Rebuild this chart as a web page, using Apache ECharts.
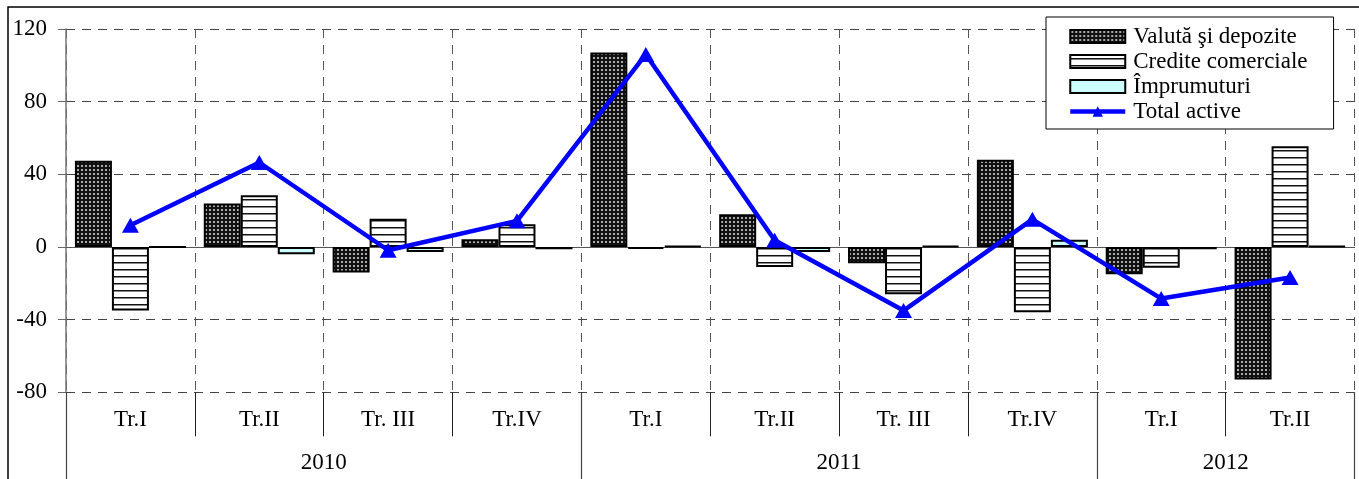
<!DOCTYPE html>
<html>
<head>
<meta charset="utf-8">
<script src="https://cdn.jsdelivr.net/npm/echarts@6/dist/echarts.min.js"></script>
<style>html,body{margin:0;padding:0;background:#fff}#chart{width:1359px;height:479px}</style>
</head>
<body>
<div id="chart"></div>
<script>
// data
var quarters = ['Tr.I', 'Tr.II', 'Tr. III', 'Tr.IV', 'Tr.I', 'Tr.II', 'Tr. III', 'Tr.IV', 'Tr.I', 'Tr.II'];
var years = ['2010', '2011', '2012'];
var quartersPerYear = [4, 4, 2];
var valuta = [47.5, 24, -14, 4.2, 107, 18, -9, 48, -15, -73];
var credite = [-35, 28.5, 15.5, 12.5, -1, -11, -26, -36, -11.5, 55.5];
var imprumuturi = [0, -4, -2.7, -1.3, 0.5, -2.7, 0.5, 4, -1.2, 0.5];
var totalActive = [12, 46.5, -1.8, 14.4, 106, 3.7, -35, 15.2, -28.4, -16.8];
var yMin = -80, yMax = 120, yStep = 40;

(function() {
  var font = "'Liberation Serif', 'Times New Roman', serif";
  var fs = 23;

  // year group boundaries / centres in category units
  var yearEdges = [0], yearMids = [];
  quartersPerYear.forEach(function(n, i) {
    var start = yearEdges[i];
    yearEdges.push(start + n);
    yearMids.push(start + n / 2);
  });

  // fill patterns
  function dots() {
    var c = document.createElement('canvas');
    c.width = 4; c.height = 4;
    var g = c.getContext('2d');
    g.fillStyle = '#111'; g.fillRect(0, 0, 4, 4);
    g.fillStyle = '#aaa'; g.fillRect(1, 1, 2, 2);
    return c;
  }
  function stripes() {
    var c = document.createElement('canvas');
    c.width = 7; c.height = 7;
    var g = c.getContext('2d');
    g.fillStyle = '#fff'; g.fillRect(0, 0, 7, 7);
    g.fillStyle = '#111'; g.fillRect(0, 3, 7, 1.5);
    return c;
  }
  var dotFill = { image: dots(), repeat: 'repeat' };
  var stripeFill = { image: stripes(), repeat: 'repeat' };

  var chart = echarts.init(document.getElementById('chart'));
  chart.setOption({
    animation: false,
    backgroundColor: '#fff',
    textStyle: { fontFamily: font, color: '#000' },
    graphic: [{
      type: 'rect', silent: true,
      shape: { x: 8, y: 7, width: 1400, height: 520 },
      style: { fill: 'none', stroke: '#000', lineWidth: 1.5 }
    }],
    legend: {
      orient: 'vertical', left: 1046, top: 17,
      itemWidth: 55, itemHeight: 13, itemGap: 2,
      padding: [8, 26, 6, 22],
      borderColor: '#000', borderWidth: 1, backgroundColor: '#fff',
      textStyle: { fontFamily: font, fontSize: fs, color: '#000', padding: [0, 0, 0, 3] },
      data: [
        { name: 'Valută şi depozite', icon: 'rect' },
        { name: 'Credite comerciale', icon: 'rect' },
        { name: 'Împrumuturi', icon: 'rect' },
        { name: 'Total active', lineStyle: { width: 4.5 } }
      ]
    },
    grid: { left: 66, right: 4.5, top: 29, bottom: 86.7, containLabel: false },
    xAxis: [{
      type: 'category', data: quarters, position: 'bottom',
      axisLine: { show: true, onZero: true, lineStyle: { color: '#555', width: 1.2 } },
      axisTick: { show: false }, axisLabel: { show: false },
      splitLine: { show: true, interval: 0, lineStyle: { color: '#555', type: [9, 7], width: 1 } }
    }, {
      type: 'category', data: quarters, position: 'bottom', offset: 0,
      axisLine: { show: false, onZero: false },
      axisTick: { show: true, interval: 0, length: 44, lineStyle: { color: '#222', width: 1 } },
      axisLabel: { interval: 0, margin: 16, fontFamily: font, fontSize: fs, color: '#000' },
      splitLine: { show: false }
    }, {
      type: 'value', min: 0, max: quarters.length, position: 'bottom', offset: 0,
      axisLine: { show: false, onZero: false },
      axisTick: { show: true, customValues: yearEdges, length: 90, lineStyle: { color: '#444', width: 1.2 } },
      axisLabel: {
        customValues: yearMids, margin: 59, fontFamily: font, fontSize: fs, color: '#000',
        formatter: function(v) { return years[yearMids.indexOf(v)] || ''; }
      },
      splitLine: { show: false }
    }],
    yAxis: {
      type: 'value', min: yMin, max: yMax, interval: yStep,
      axisLine: { show: true, lineStyle: { color: '#777', width: 1.5 } },
      axisTick: { show: true, length: 8, lineStyle: { color: '#666' } },
      axisLabel: { margin: 19, fontFamily: font, fontSize: fs, color: '#000' },
      splitLine: { show: true, lineStyle: { color: '#444', type: [9, 7], width: 1 } }
    },
    series: [{
      name: 'Valută şi depozite', type: 'bar', data: valuta,
      barWidth: 37, barGap: '0%',
      itemStyle: { color: dotFill, borderColor: '#000', borderWidth: 2 }
    }, {
      name: 'Credite comerciale', type: 'bar', data: credite,
      barWidth: 37, barGap: '0%',
      itemStyle: { color: stripeFill, borderColor: '#000', borderWidth: 2 }
    }, {
      name: 'Împrumuturi', type: 'bar', data: imprumuturi,
      barWidth: 37, barGap: '0%',
      itemStyle: { color: '#ccffff', borderColor: '#000', borderWidth: 2 }
    }, {
      name: 'Total active', type: 'line', data: totalActive,
      symbol: 'triangle', symbolSize: [17, 15],
      lineStyle: { color: '#0000ff', width: 4.5 },
      itemStyle: { color: '#0000ff' },
      z: 5
    }]
  });
})();
</script>
</body>
</html>
